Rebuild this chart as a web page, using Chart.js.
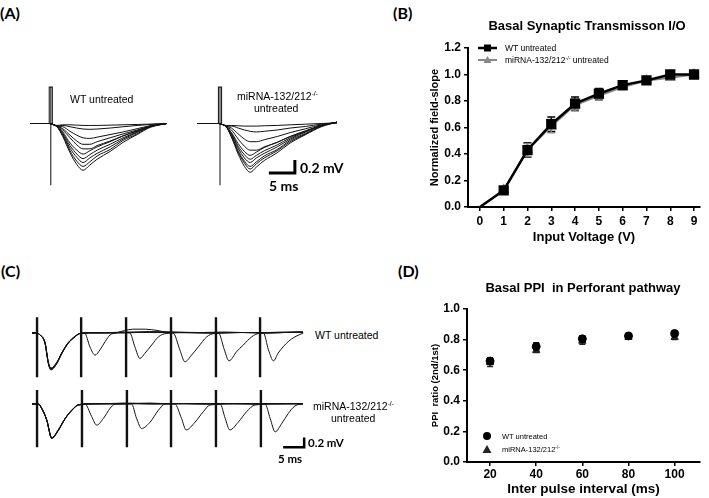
<!DOCTYPE html>
<html>
<head>
<meta charset="utf-8">
<script src="https://cdn.jsdelivr.net/npm/chart.js@4.4.0/dist/chart.umd.min.js"></script>
<style>
body{margin:0;background:#fff;}
#wrap{position:relative;width:709px;height:498px;overflow:hidden;font-family:"Liberation Sans",Arial,sans-serif;color:#000;}
canvas{position:absolute;}
.t{position:absolute;white-space:pre;line-height:1;transform:translateY(-50%);}
.pl{font:bold 16px Lato,sans-serif;}
.sb{font-family:Lato,sans-serif;font-weight:bold;}
.ttl{font-weight:bold;font-size:13px;transform:translate(-50%,-50%);}
sup{font-size:0.62em;vertical-align:0.55em;line-height:0;}
.lg{position:absolute;display:flex;align-items:center;transform:translateY(-50%);white-space:nowrap;}
.lg svg{margin-right:4px;}
</style>
</head>
<body>
<div id="wrap">
  <div class="t pl" style="left:0;top:12px">(A)</div>
  <div class="t pl" style="left:393px;top:12px">(B)</div>
  <div class="t pl" style="left:1px;top:270px">(C)</div>
  <div class="t pl" style="left:398px;top:270px">(D)</div>

  <canvas id="aWt"></canvas>
  <canvas id="aKo"></canvas>
  <div class="t" style="left:70px;top:99px;font-size:10.5px">WT untreated</div>
  <div class="t" style="left:237px;top:96px;font-size:10.5px">miRNA-132/212<sup>-/-</sup></div>
  <div class="t" style="left:254px;top:108px;font-size:10.5px">untreated</div>
  <div class="t sb" style="left:300px;top:168px;font-size:14px">0.2 mV</div>
  <div class="t sb" style="left:269px;top:186px;font-size:14px">5 ms</div>

  <canvas id="cWt"></canvas>
  <canvas id="cKo"></canvas>
  <div class="t" style="left:315px;top:335px;font-size:10.5px">WT untreated</div>
  <div class="t" style="left:313px;top:406px;font-size:10.5px">miRNA-132/212<sup>-/-</sup></div>
  <div class="t" style="left:331px;top:418px;font-size:10.5px">untreated</div>
  <div class="t sb" style="left:308px;top:443px;font-size:11.5px">0.2 mV</div>
  <div class="t sb" style="left:278px;top:459px;font-size:11.5px">5 ms</div>

  <canvas id="io"></canvas>
  <div class="t ttl" style="left:587px;top:25px">Basal Synaptic Transmisson I/O</div>
  <div class="lg" style="left:477px;top:48px;font-size:8.5px">
    <svg width="22" height="10"><line x1="1" y1="5" x2="20" y2="5" stroke="#000" stroke-width="2.5"/><rect x="7" y="1.5" width="7" height="7" fill="#000"/></svg>
    <span style="margin-left:2px">WT untreated</span></div>
  <div class="lg" style="left:477px;top:59.5px;font-size:8.5px">
    <svg width="22" height="10"><line x1="1" y1="5" x2="20" y2="5" stroke="#888" stroke-width="2"/><polygon points="10.5,1 14.5,8 6.5,8" fill="#888"/></svg>
    <span style="margin-left:2px">miRNA-132/212<sup>-/-</sup> untreated</span></div>

  <canvas id="ppi"></canvas>
  <div class="t ttl" style="left:583px;top:287px">Basal PPI  in Perforant pathway</div>
  <div class="lg" style="left:482px;top:436px;font-size:7.5px">
    <svg width="11" height="10"><circle cx="5" cy="5" r="4" fill="#000"/></svg>
    <span style="margin-left:5px">WT untreated</span></div>
  <div class="lg" style="left:482px;top:449px;font-size:7.5px">
    <svg width="11" height="10"><polygon points="5,1 9.5,9 0.5,9" fill="#222"/></svg>
    <span style="margin-left:5px">miRNA-132/212<sup>-/-</sup></span></div>
</div>

<script>
// ---- panel B: input/output ----
const ioVolts = [0, 1, 2, 3, 4, 5, 6, 7, 8, 9];
const ioYTicks = [0, 0.2, 0.4, 0.6, 0.8, 1.0, 1.2];
const ioWt = [0, 0.125, 0.43, 0.625, 0.78, 0.855, 0.92, 0.955, 1.0, 1.0];
const ioWtErr = [0, 0.02, 0.055, 0.055, 0.05, 0.04, 0.025, 0.012, 0.012, 0.008];
const ioKo = [0, 0.13, 0.43, 0.61, 0.77, 0.84, 0.905, 0.955, 0.975, 1.0];
const ioKoErr = [0, 0.02, 0.05, 0.05, 0.045, 0.035, 0.02, 0.012, 0.012, 0.008];

// ---- panel D: paired pulse ----
const ppiIntervals = [20, 40, 60, 80, 100];
const ppiYTicks = [0, 0.2, 0.4, 0.6, 0.8, 1.0];
const ppiWt = [0.66, 0.755, 0.805, 0.824, 0.84];
const ppiWtErr = [0.02, 0.025, 0.02, 0.01, 0.01];
const ppiKo = [0.65, 0.73, 0.79, 0.815, 0.815];
const ppiKoErr = [0.025, 0.015, 0.02, 0.01, 0.015];

// ---- panel A: fEPSP traces (ms, mV) ----
const aWtTime = [0, 3.8, 4.6, 5.2, 6.3, 7.7, 9.0, 10.2, 11.5, 12.9, 15.4, 17.9, 20.6, 23.1, 26.3];
const aWtTraces = [
  [0, 0, -0.02, -0.03, -0.02, -0.02, -0.025, -0.03, -0.03, -0.03, -0.025, -0.02, -0.015, -0.01, 0],
  [0, 0, -0.02, -0.04, -0.03, -0.05, -0.07, -0.085, -0.09, -0.085, -0.07, -0.05, -0.03, -0.015, 0],
  [0, 0, -0.02, -0.04, -0.05, -0.12, -0.18, -0.22, -0.23, -0.21, -0.17, -0.13, -0.08, -0.035, 0],
  [0, 0, -0.02, -0.04, -0.08, -0.18, -0.27, -0.32, -0.32, -0.28, -0.22, -0.16, -0.10, -0.04, 0],
  [0, 0, -0.02, -0.04, -0.10, -0.22, -0.33, -0.39, -0.39, -0.34, -0.27, -0.19, -0.12, -0.05, 0],
  [0, 0, -0.02, -0.05, -0.13, -0.30, -0.41, -0.47, -0.42, -0.36, -0.28, -0.19, -0.11, -0.04, 0],
  [0, 0, -0.02, -0.05, -0.15, -0.34, -0.47, -0.54, -0.48, -0.41, -0.32, -0.22, -0.13, -0.04, 0],
  [0, 0, -0.02, -0.05, -0.17, -0.38, -0.52, -0.60, -0.53, -0.46, -0.36, -0.24, -0.14, -0.05, 0],
  [0, 0, -0.02, -0.05, -0.18, -0.42, -0.58, -0.66, -0.59, -0.50, -0.40, -0.26, -0.16, -0.05, 0],
  [0, 0, -0.02, -0.05, -0.20, -0.45, -0.63, -0.72, -0.64, -0.55, -0.43, -0.29, -0.17, -0.06, 0]
];
const aKoTime = [-0.4, 3.8, 4.6, 5.2, 6.2, 7.5, 8.7, 9.8, 11.0, 12.5, 15.0, 17.5, 20.5, 23.5, 26.5];
const aKoTraces = [
  [0, 0, -0.02, -0.03, -0.03, -0.035, -0.04, -0.04, -0.04, -0.035, -0.03, -0.02, -0.01, 0, 0.01],
  [0, 0, -0.02, -0.04, -0.04, -0.07, -0.10, -0.12, -0.13, -0.12, -0.10, -0.07, -0.045, -0.01, 0.01],
  [0, 0, -0.02, -0.04, -0.07, -0.16, -0.24, -0.28, -0.28, -0.25, -0.20, -0.14, -0.08, -0.02, 0.01],
  [0, 0, -0.02, -0.05, -0.10, -0.24, -0.35, -0.41, -0.41, -0.36, -0.29, -0.20, -0.12, -0.03, 0.02],
  [0, 0, -0.02, -0.05, -0.14, -0.31, -0.43, -0.49, -0.44, -0.37, -0.29, -0.20, -0.11, -0.03, 0.02],
  [0, 0, -0.02, -0.05, -0.15, -0.35, -0.48, -0.55, -0.49, -0.42, -0.33, -0.22, -0.12, -0.03, 0.02],
  [0, 0, -0.02, -0.05, -0.17, -0.38, -0.53, -0.60, -0.53, -0.46, -0.36, -0.24, -0.13, -0.03, 0.02],
  [0, 0, -0.02, -0.05, -0.19, -0.42, -0.58, -0.66, -0.59, -0.50, -0.40, -0.26, -0.15, -0.04, 0.02],
  [0, 0, -0.02, -0.05, -0.20, -0.44, -0.61, -0.70, -0.62, -0.53, -0.42, -0.28, -0.16, -0.04, 0.02],
  [0, 0, -0.02, -0.05, -0.21, -0.47, -0.66, -0.75, -0.67, -0.57, -0.45, -0.30, -0.17, -0.05, 0.02]
];
const aArtTime = [4.0, 4.0];       // stimulus artifact, WT / KO
const aArtTop = [0.56, 0.56];
const aArtBottom = [-0.95, -0.95];

// ---- panel C: paired pulses, [ms, mV] ----
const cWtArtTimes = [1.2, 11.7, 22.4, 33.1, 43.8, 54.3];
const cKoArtTimes = [1.2, 11.9, 22.6, 33.1, 43.8, 54.5];
const cWtArtRange = [0.33, -0.92];
const cKoArtRange = [0.29, -0.90];
const cWtTraces = [
  [[0,0],[1.1,0],[1.9,-0.04],[3.1,-0.21],[3.9,-0.63],[4.5,-0.76],[5.9,-0.63],[7.1,-0.42],[8.6,-0.21],[10.2,-0.08],[11.4,-0.01],
   [12.5,0],[13.8,-0.29],[15.0,-0.46],[16.2,-0.35],[17.4,-0.18],[18.6,-0.04],[20,0],[22,0.05],[24,0.08],[27,0.08],[30,0.05],[32,0.02],
   [38,0.01],[44,0],[50,0.01],[56,0],[60,0.01],[64.5,0.02]],
  [[0,0],[1.1,0],[1.9,-0.04],[3.1,-0.2],[3.9,-0.62],[4.5,-0.74],[5.9,-0.62],[7.1,-0.41],[8.6,-0.21],[10.2,-0.08],[11.4,-0.01],
   [14,0.01],[18,0],[22,0.01],[23.3,0],[24.5,-0.29],[25.7,-0.53],[26.9,-0.42],[28.5,-0.25],[30.1,-0.08],[32,-0.01],
   [38,0.01],[44,0],[50,0.01],[56,0.01],[60,0.02],[64.5,0.02]],
  [[0,0],[1.1,0],[1.9,-0.04],[3.1,-0.22],[3.9,-0.64],[4.5,-0.77],[5.9,-0.64],[7.1,-0.43],[8.6,-0.22],[10.2,-0.08],[11.4,-0.01],
   [16,0],[22,0.02],[28,0.01],[33.6,0],[35.2,-0.35],[36.4,-0.60],[38.0,-0.46],[39.6,-0.29],[41.6,-0.08],[43.5,-0.01],
   [50,0.01],[56,0],[60,0.01],[64.5,0.02]],
  [[0,0],[1.1,0],[1.9,-0.04],[3.1,-0.21],[3.9,-0.63],[4.5,-0.75],[5.9,-0.63],[7.1,-0.42],[8.6,-0.21],[10.2,-0.08],[11.4,-0.01],
   [16,0.01],[22,0],[28,0.02],[34,0.01],[40,0],[44.4,0],[45.8,-0.35],[46.9,-0.58],[48.7,-0.39],[50.3,-0.25],[52.3,-0.08],[54,-0.01],
   [60,0.01],[64.5,0.02]],
  [[0,0],[1.1,0],[1.9,-0.04],[3.1,-0.2],[3.9,-0.61],[4.5,-0.73],[5.9,-0.61],[7.1,-0.41],[8.6,-0.2],[10.2,-0.07],[11.4,-0.01],
   [16,0],[22,0.01],[28,0.03],[34,0.02],[40,0.01],[46,0.02],[50,0.01],[55.1,0],[56.3,-0.35],[57.5,-0.58],[58.6,-0.42],[61.0,-0.18],
   [62.6,-0.08],[64.6,0]]
];
const cKoTraces = [
  [[0,0],[1.5,0],[2.3,-0.09],[3.5,-0.33],[4.7,-0.71],[6.3,-0.54],[7.9,-0.30],[9.5,-0.13],[11.0,-0.02],
   [12.6,0],[14.2,-0.26],[15.4,-0.44],[17.0,-0.30],[18.6,-0.09],[19.8,0],[24,0.01],[30,0],[36,0.01],[42,0],[48,0.01],[54,0],[60,0.01],[64.5,0]],
  [[0,0],[1.5,0],[2.3,-0.09],[3.5,-0.34],[4.7,-0.72],[6.3,-0.55],[7.9,-0.31],[9.5,-0.13],[11.0,-0.02],
   [15,0.01],[20,0],[23.7,0],[24.9,-0.30],[26.1,-0.51],[28.1,-0.38],[30.1,-0.13],[31.7,0],[36,0.01],[42,0],[48,0.01],[54,0],[60,0.01],[64.5,0]],
  [[0,0],[1.5,0],[2.3,-0.09],[3.5,-0.33],[4.7,-0.70],[6.3,-0.53],[7.9,-0.30],[9.5,-0.12],[11.0,-0.02],
   [16,0],[22,0.02],[28,0.01],[34.0,0],[35.6,-0.30],[36.7,-0.54],[38.8,-0.38],[40.8,-0.16],[42.4,-0.02],[48,0],[54,0.01],[60,0],[64.5,0.01]],
  [[0,0],[1.5,0],[2.3,-0.09],[3.5,-0.33],[4.7,-0.71],[6.3,-0.54],[7.9,-0.30],[9.5,-0.13],[11.0,-0.02],
   [16,0.01],[22,0],[28,0.02],[34,0],[40,0.01],[44.8,0],[46.0,-0.30],[47.1,-0.54],[49.1,-0.38],[51.1,-0.16],[53.1,-0.02],[58,0],[64.5,0.01]],
  [[0,0],[1.5,0],[2.3,-0.09],[3.5,-0.33],[4.7,-0.71],[6.3,-0.54],[7.9,-0.30],[9.5,-0.13],[11.0,-0.02],
   [16,0],[22,0.01],[28,0],[34,0.01],[40,0],[46,0.01],[52,0],[55.5,0],[56.7,-0.30],[57.9,-0.58],[59.5,-0.40],[61.0,-0.20],[62.6,-0.04],[64.5,0]]
];

Chart.defaults.font.family = '"Liberation Sans", Arial, sans-serif';
Chart.defaults.color = '#000';

// error bars with caps
const errorBars = {
  id: 'errorBars',
  beforeDatasetsDraw(chart, args, opts) {
    const {ctx, scales: {x, y}} = chart;
    chart.data.datasets.forEach(ds => {
      if (!ds.errors) return;
      ctx.save();
      ctx.strokeStyle = ds.borderColor;
      ctx.lineWidth = 1.5;
      ds.data.forEach((p, j) => {
        const e = ds.errors[j];
        if (!e) return;
        const px = x.getPixelForValue(p.x);
        const top = y.getPixelForValue(p.y + e), bot = y.getPixelForValue(p.y - e);
        const c = opts.cap || 4;
        ctx.beginPath();
        ctx.moveTo(px, top); ctx.lineTo(px, bot);
        ctx.moveTo(px - c, top); ctx.lineTo(px + c, top);
        ctx.moveTo(px - c, bot); ctx.lineTo(px + c, bot);
        ctx.stroke();
      });
      ctx.restore();
    });
  }
};

// L shaped calibration bar, lengths in data units
const scaleBar = {
  id: 'scaleBar',
  afterDatasetsDraw(chart, args, o) {
    if (o.t === undefined) return;
    const {ctx, scales: {x, y}} = chart;
    const x1 = x.getPixelForValue(o.t), y1 = y.getPixelForValue(o.v);
    const x0 = x.getPixelForValue(o.t - o.ms), y0 = y.getPixelForValue(o.v + o.mv);
    ctx.save();
    ctx.strokeStyle = '#000';
    ctx.lineWidth = o.width;
    ctx.beginPath();
    ctx.moveTo(x0, y1); ctx.lineTo(x1, y1); ctx.lineTo(x1, y0);
    ctx.stroke();
    ctx.restore();
  }
};

function traceSet(points, w) {
  return {data: points, borderColor: '#111', borderWidth: w || 1, pointRadius: 0,
          cubicInterpolationMode: 'monotone', fill: false};
}

function traceChart(id, b, datasets, bar) {
  const c = document.getElementById(id);
  c.width = b.w; c.height = b.h;
  c.style.left = b.x + 'px'; c.style.top = b.y + 'px';
  return new Chart(c, {
    type: 'line',
    data: {datasets: datasets},
    options: {
      responsive: false, animation: false, events: [],
      layout: {padding: 0},
      plugins: {legend: {display: false}, tooltip: {enabled: false}, scaleBar: bar || {}},
      scales: {
        x: {type: 'linear', display: false, min: (b.x - b.ox) / b.msPx, max: (b.x + b.w - b.ox) / b.msPx},
        y: {type: 'linear', display: false, min: -(b.y + b.h - b.oy) / b.mvPx, max: (b.oy - b.y) / b.mvPx}
      }
    },
    plugins: [scaleBar]
  });
}

// panel A
function aDatasets(times, traces, k) {
  const sets = traces.map(tr => traceSet(times.map((t, i) => ({x: t, y: tr[i]})), 1));
  const t = aArtTime[k], top = aArtTop[k], bot = aArtBottom[k];
  sets.push({data: [{x: t - 0.3, y: 0}, {x: t - 0.3, y: top}, {x: t + 0.3, y: top}, {x: t + 0.3, y: 0},
                    {x: t, y: null}, {x: t, y: top}, {x: t, y: bot}],
             borderColor: '#222', borderWidth: 1.1, pointRadius: 0, tension: 0, spanGaps: false});
  return sets;
}
traceChart('aWt', {x: 25, y: 80, w: 150, h: 115, ox: 30, oy: 123.5, msPx: 5.2, mvPx: 65},
  aDatasets(aWtTime, aWtTraces, 0));
traceChart('aKo', {x: 190, y: 80, w: 160, h: 115, ox: 199.2, oy: 123.5, msPx: 5.2, mvPx: 65},
  aDatasets(aKoTime, aKoTraces, 1), {t: 18.4, v: -0.76, ms: 5, mv: 0.2, width: 3});

// panel C
function cDatasets(traces, artTimes, range) {
  const sets = traces.map(tr => traceSet(tr.map(p => ({x: p[0], y: p[1]})), 1));
  const art = [];
  artTimes.forEach(t => { art.push({x: t, y: range[0]}, {x: t, y: range[1]}, {x: t, y: null}); });
  sets.push({data: art, borderColor: '#111', borderWidth: 2.4, pointRadius: 0, tension: 0, spanGaps: false});
  return sets;
}
traceChart('cWt', {x: 25, y: 308, w: 290, h: 75, ox: 32, oy: 333, msPx: 4.2, mvPx: 48},
  cDatasets(cWtTraces, cWtArtTimes, cWtArtRange));
traceChart('cKo', {x: 25, y: 380, w: 290, h: 75, ox: 32, oy: 404, msPx: 4.2, mvPx: 48},
  cDatasets(cKoTraces, cKoArtTimes, cKoArtRange), {t: 64.8, v: -0.90, ms: 5, mv: 0.2, width: 2.5});

// shared axis look for B and D
const tickFont = {size: 12, weight: 'bold'};
function axis(o) {
  return Object.assign({
    type: 'linear',
    grid: {drawOnChartArea: false, drawTicks: true, tickLength: 4, color: '#000', lineWidth: 1.5},
    border: {color: '#000', width: 2},
    ticks: {font: tickFont, color: '#000', autoSkip: false, maxRotation: 0}
  }, o);
}

// no marker at the 0 V origin point
const ioRadius = (r) => (c) => (c.dataIndex === 0 ? 0 : r);

// panel B
const io = document.getElementById('io');
io.width = 319; io.height = 250;
io.style.left = '390px'; io.style.top = '0px';
new Chart(io, {
  type: 'line',
  data: {
    datasets: [
      {label: 'WT untreated', data: ioVolts.map((v, i) => ({x: v, y: ioWt[i]})), errors: ioWtErr,
       borderColor: '#000', backgroundColor: '#000', borderWidth: 2.5, pointStyle: 'rect', pointRadius: ioRadius(5.5), tension: 0},
      {label: 'miRNA-132/212-/- untreated', data: ioVolts.map((v, i) => ({x: v, y: ioKo[i]})), errors: ioKoErr,
       borderColor: '#888', backgroundColor: '#888', borderWidth: 2, pointStyle: 'triangle', pointRadius: ioRadius(4.5), tension: 0}
    ]
  },
  options: {
    responsive: false, animation: false, events: [],
    layout: {padding: {left: 38.4, top: 48, right: 9, bottom: 5.2}},
    plugins: {legend: {display: false}, tooltip: {enabled: false}, errorBars: {cap: 4}},
    scales: {
      x: axis({min: -0.5, max: 9.25,
        afterBuildTicks: s => { s.ticks = ioVolts.map(v => ({value: v})); },
        afterFit: s => { s.height = 37.8; },
        title: {display: true, text: 'Input Voltage (V)', color: '#000', padding: 0, font: {size: 13, weight: 'bold'}}}),
      y: axis({min: 0, max: 1.2,
        afterBuildTicks: s => { s.ticks = ioYTicks.map(v => ({value: v})); },
        afterFit: s => { s.width = 39.6; },
        ticks: {font: tickFont, color: '#000', padding: 3, callback: v => v.toFixed(1)},
        title: {display: true, text: 'Normalized field-slope', color: '#000', padding: 0, font: {size: 11, weight: 'bold'}}})
    }
  },
  plugins: [errorBars]
});

// panel D
const ppi = document.getElementById('ppi');
ppi.width = 319; ppi.height = 248;
ppi.style.left = '390px'; ppi.style.top = '250px';
new Chart(ppi, {
  type: 'line',
  data: {
    datasets: [
      {label: 'WT untreated', data: ppiIntervals.map((v, i) => ({x: v, y: ppiWt[i]})), errors: ppiWtErr,
       showLine: false, borderColor: '#000', backgroundColor: '#000', pointStyle: 'circle', pointRadius: 4},
      {label: 'miRNA-132/212-/-', data: ppiIntervals.map((v, i) => ({x: v, y: ppiKo[i]})), errors: ppiKoErr,
       showLine: false, borderColor: '#222', backgroundColor: '#222', pointStyle: 'triangle', pointRadius: 4.2}
    ]
  },
  options: {
    responsive: false, animation: false, events: [],
    layout: {padding: {left: 39.6, top: 59, right: 9, bottom: 0.9}},
    plugins: {legend: {display: false}, tooltip: {enabled: false}, errorBars: {cap: 3}},
    scales: {
      x: axis({min: 10, max: 111,
        afterBuildTicks: s => { s.ticks = ppiIntervals.map(v => ({value: v})); },
        afterFit: s => { s.height = 35.1; },
        ticks: {font: tickFont, color: '#000', padding: 1, autoSkip: false, maxRotation: 0},
        title: {display: true, text: 'Inter pulse interval (ms)', color: '#000', padding: 0, font: {size: 13.5, weight: 'bold'}}}),
      y: axis({min: 0, max: 1,
        afterBuildTicks: s => { s.ticks = ppiYTicks.map(v => ({value: v})); },
        afterFit: s => { s.width = 37.4; },
        ticks: {font: tickFont, color: '#000', padding: 3, callback: v => v.toFixed(1)},
        title: {display: true, text: 'PPI  ratio (2nd/1st)', color: '#000', padding: 0, font: {size: 9.5, weight: 'bold'}}})
    }
  },
  plugins: [errorBars]
});
</script>
</body>
</html>
